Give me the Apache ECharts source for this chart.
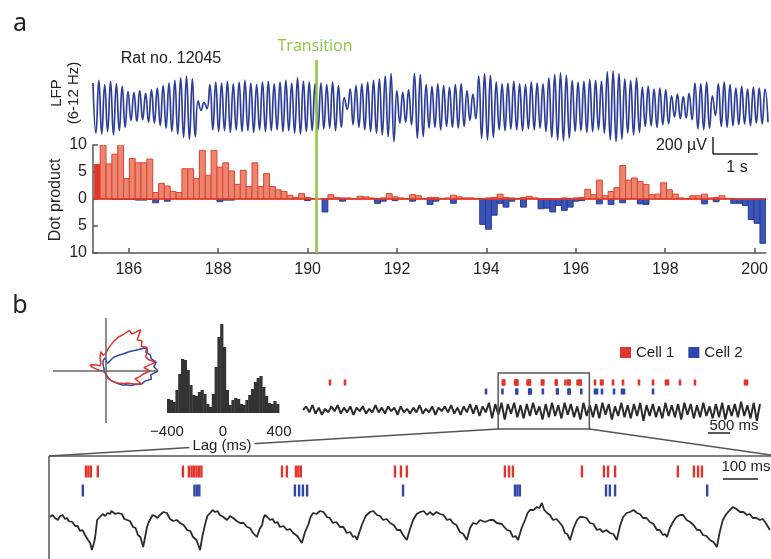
<!DOCTYPE html>
<html>
<head>
<meta charset="utf-8">
<script src="https://cdn.jsdelivr.net/npm/echarts@6/dist/echarts.min.js"></script>
<style>
  html, body { margin: 0; padding: 0; background: #fff; }
  #main { width: 771px; height: 559px; }
</style>
</head>
<body>
<div id="main"></div>
<script>
'use strict'

// ---- panel a : theta LFP, peaks and troughs of each cycle (uV)
const lfpPeaks = [270, 300, 250, 290, 260, 230, 170, 160, 180, 150, 190, 210,
    240, 270, 300, 330, 350, 320, 60, 40, 250, 280, 270, 290, 260, 280, 300, 270,
    250, 280, 290, 260, 280, 300, 270, 330, 290, 280, 260, 270, 250, 280, 240,
    100, 200, 240, 260, 280, 300, 320, 350, 380, 180, 160, 190, 380, 370, 250,
    230, 260, 240, 220, 250, 260, 180, 140, 350, 380, 360, 280, 260, 270, 290,
    260, 250, 280, 270, 260, 330, 370, 390, 360, 300, 280, 290, 310, 300, 290,
    400, 410, 380, 320, 300, 330, 220, 230, 200, 210, 190, 120, 140, 110, 150,
    270, 260, 280, 120, 260, 280, 250, 210, 230, 200, 220, 210, 200];
const lfpTroughs = [-320, -330, -300, -340, -290, -250, -170, -180, -160, -190,
    -200, -230, -260, -300, -330, -370, -390, -360, -50, -30, -280, -300, -290,
    -310, -280, -300, -290, -310, -280, -300, -290, -280, -300, -290, -320, -330,
    -300, -290, -280, -270, -260, -290, -250, -40, -220, -250, -280, -300, -320,
    -340, -360, -420, -200, -190, -220, -380, -360, -260, -250, -280, -240, -250,
    -260, -240, -170, -150, -380, -400, -370, -280, -290, -270, -280, -290, -270,
    -280, -260, -300, -370, -400, -410, -380, -300, -290, -310, -300, -280, -320,
    -400, -420, -390, -320, -340, -310, -240, -230, -250, -220, -210, -130, -150,
    -140, -160, -270, -280, -260, -110, -240, -250, -230, -220, -210, -230, -200,
    -210, -190];

// ---- panel a : dot product per time bin
const binStart = 185.23;
const binWidth = 0.1306;
const dotCell1 = [6.4, 10.0, 6.5, 8.3, 10.3, 3.8, 7.5, 6.7, 6.7, 7.4, 1.2, 2.9,
    2.4, 1.4, 1.2, 5.6, 5.6, 3.8, 9.0, 4.4, 9.0, 5.9, 6.7, 5.2, 2.7, 5.3, 2.3,
    6.7, 2.3, 4.7, 2.3, 1.7, 1.4, 0.7, 0.3, 1.0, 0.3, 0.1, 0.0, 0.1, 0.8, 0.3,
    0.2, 0.2, 0.1, 0.5, 0.4, 0.2, 0.1, 0.2, 1.0, 0.4, 0.2, 0.1, 0.8, 0.6, 0.1,
    0.3, 0.3, 0.1, 0.2, 0.7, 0.4, 0.2, 0.2, 0.1, 0.1, 0.2, 0.3, 0.9, 0.3, 0.2,
    0.1, 0.3, 0.5, 0.2, 0.1, 0.1, 0.1, 0.1, 0.2, 0.1, 0.2, 0.3, 1.8, 0.8, 3.5,
    0.6, 1.4, 2.1, 6.2, 3.5, 3.9, 3.2, 2.7, 0.8, 0.9, 3.0, 1.7, 0.9, 0.2, 0.1,
    0.6, 0.6, 0.9, 0.2, 0.3, 0.6, 0.1, 0.1, 0.0, 0.0, 0.0, 0.0, 0.0];
const dotCell2 = [0, 0, 0, -0.1, -0.1, -0.1, -0.1, -0.2, -0.2, -0.1, -0.7, 0,
    -0.4, 0, 0, 0, 0, 0, 0, 0, 0, -0.5, -0.2, -0.2, 0, 0, 0, 0, 0, 0, 0, 0, 0,
    0, 0, 0, -0.3, 0, 0, -2.4, 0, 0, -0.4, 0, 0, 0, 0, 0, -0.8, -0.4, 0, -0.3,
    0, 0, -0.4, 0, 0, -1.0, -0.4, 0, 0, -0.8, 0, 0, 0, 0, -4.7, -5.6, -3.0,
    -0.8, -1.5, -0.4, 0, -1.5, 0, 0, -1.8, -1.7, -2.4, -1.2, -2.1, -1.5, -0.4,
    -0.3, 0, 0, -0.9, 0, -1.0, 0, -0.7, 0, 0, -0.9, -1.0, 0, 0, 0, 0, 0, 0, 0,
    0, 0, -0.9, 0, -0.5, 0, 0, -0.8, -0.8, -1.2, -3.8, -4.5, -8.2];
const transitionTime = 190.2;
const timeTicks = [186, 188, 190, 192, 194, 196, 198, 200];

// ---- panel b : phase polar plots (angle deg, radius)
const polarAngles = [0, 5, 10, 15, 20, 25, 30, 35, 40, 45, 50, 55, 60, 65, 70,
    75, 80, 85, 90, 95, 100, 105, 110, 115, 120, 125, 130, 135, 140, 145, 150,
    155, 160, 165, 170, 175, 180, 185, 190, 195, 200, 205, 210, 215, 220, 225,
    230, 235, 240, 245, 250, 255, 260, 265, 270, 275, 280, 285, 290, 295, 300,
    305, 310, 315, 320, 325, 330, 335, 340, 345, 350, 355];
const polarCell1 = [44, 38, 50, 44, 42, 46, 47, 43, 47, 44, 54, 45, 47, 40, 36,
    31, 26, 22, 18, 17, 16, 20, 19, 14, 11, 9, 8, 8, 8, 10, 12, 15, 17, 14, 9,
    6, 5, 3, 3, 2, 2, 2, 2, 2, 2, 2, 2, 2, 2, 2, 2, 2, 3, 3, 4, 5, 6, 8, 9, 10,
    11, 13, 15, 17, 18, 22, 24, 31, 38, 30, 34, 37];
const polarCell2 = [52, 48, 51, 47, 47, 44, 47, 36, 30, 24, 21, 18, 16, 13, 10,
    9, 8, 9, 10, 13, 14, 11, 9, 7, 5, 4, 3, 3, 2, 2, 2, 2, 2, 2, 2, 2, 2, 2, 2,
    2, 2, 2, 2, 2, 2, 2, 2, 2, 2, 2, 2, 2, 2, 2, 3, 4, 5, 6, 8, 10, 11, 13, 15,
    18, 22, 24, 29, 32, 38, 40, 46, 45];

// ---- panel b : cross-correlogram, 20 ms bins from -400 ms
const lagStart = -400;
const lagBin = 20;
const xcorrCounts = [14, 13, 11, 23, 39, 54, 53, 43, 28, 18, 17, 21, 23, 19, 9,
    6, 19, 46, 76, 89, 66, 23, 8, 13, 15, 14, 9, 8, 13, 18, 24, 31, 35, 37, 26,
    17, 10, 9, 12, 9];

// ---- panel b : spike times (ms)
const cell1Spikes = [613, 953, 4536, 4543, 4550, 4570, 4814, 4831, 4839, 4846,
    4853, 4860, 4867, 5098, 5112, 5138, 5145, 5152, 5422, 5439, 5456, 5737,
    5749, 5760, 5958, 6021, 6033, 6053, 6233, 6279, 6291, 6302, 6628, 6765,
    6800, 7037, 7264, 7627, 7945, 8240, 8286, 8558, 8898, 10033, 10079];
const cell2Spikes = [4154, 4527, 4847, 4854, 4861, 5135, 5147, 5158, 5170, 5445,
    5766, 5773, 5780, 6027, 6038, 6053, 6317, 6628, 6674, 6787, 7060, 7241,
    7287, 7945];
const recordEnd = 10374;
const windowStart = 4430;
const windowEnd = 6500;

// broadband LFP of the whole record (evenly sampled)
const rawLfp = [0, 3, -2, 4, -3, 2, -4, 1, -2, 3, -1, 4, -3, 2, -2, 3, -4, 2, -1,
    3, -3, 1, -2, 4, -2, 2, -3, 3, -1, 2, -4, 3, -2, 1, -3, 2, -2, 4, -3, 1, -2,
    3, -4, 2, -1, 3, -2, 4, -3, 2, -4, 3, -2, 5, -3, 4, -5, 3, -2, 6, -7, 5, -4,
    6, -8, 5, -3, 6, -6, 4, -7, 5, -5, 6, -4, 3, -8, 5, -6, 6, -5, 4, -7, 6, -4,
    5, -6, 3, -8, 6, -5, 4, -6, 5, -7, 6, -4, 5, -8, 3, -5, 6, -6, 4, -7, 5, -5,
    6, -9, 4, -5, 5, -6, 3, -7, 6, -5, 4, -6, 5, -8, 6, -4, 5, -7, 4, -6, 6, -5,
    3, -7, 5, -6, 6, -8, 4, -5, 5, -6, 7, -5, 4, -7, 6, -9, 5];

// broadband LFP inside the zoom window [ms, level]
const zoomLfp = [[4433, 39], [4440, 41], [4447, 38], [4455, 36], [4462, 40],
    [4469, 41], [4476, 37], [4482, 38], [4486, 35], [4490, 33], [4497, 34],
    [4505, 30], [4512, 30], [4519, 25], [4526, 26], [4533, 21], [4538, 22],
    [4542, 16], [4548, 13], [4553, 6], [4558, 12], [4562, 18], [4568, 36],
    [4572, 37], [4576, 39], [4584, 42], [4591, 40], [4598, 43], [4605, 42],
    [4609, 45], [4613, 44], [4620, 42], [4628, 43], [4633, 45], [4639, 42],
    [4646, 37], [4654, 36], [4662, 35], [4671, 29], [4678, 28], [4685, 21],
    [4692, 19], [4700, 9], [4706, 20], [4711, 29], [4716, 34], [4720, 36],
    [4727, 41], [4734, 40], [4741, 38], [4748, 41], [4758, 44], [4768, 43],
    [4777, 37], [4786, 35], [4796, 36], [4806, 33], [4816, 31], [4826, 26],
    [4835, 25], [4843, 19], [4853, 16], [4863, 6], [4870, 20], [4877, 31],
    [4884, 40], [4892, 43], [4899, 46], [4906, 44], [4913, 45], [4920, 41],
    [4930, 39], [4940, 36], [4949, 40], [4958, 38], [4968, 35], [4978, 33],
    [4988, 33], [4998, 29], [5006, 28], [5015, 23], [5020, 24], [5026, 19],
    [5034, 27], [5041, 31], [5045, 38], [5049, 41], [5056, 39], [5064, 36],
    [5071, 37], [5078, 33], [5085, 34], [5092, 29], [5102, 30], [5112, 26],
    [5121, 27], [5130, 23], [5142, 20], [5155, 13], [5164, 24], [5173, 31],
    [5180, 39], [5187, 43], [5197, 42], [5207, 45], [5217, 44], [5227, 39],
    [5235, 38], [5244, 33], [5254, 34], [5264, 29], [5274, 29], [5284, 23],
    [5293, 24], [5302, 19], [5308, 20], [5313, 16], [5320, 24], [5327, 31],
    [5338, 40], [5350, 44], [5360, 45], [5370, 41], [5379, 40], [5388, 36],
    [5398, 37], [5408, 33], [5418, 31], [5428, 26], [5437, 26], [5445, 21],
    [5450, 21], [5456, 16], [5465, 27], [5474, 36], [5484, 42], [5494, 44],
    [5504, 45], [5514, 41], [5522, 44], [5531, 41], [5541, 44], [5551, 42],
    [5561, 41], [5571, 36], [5580, 37], [5588, 33], [5598, 31], [5608, 24],
    [5618, 22], [5628, 16], [5637, 28], [5646, 33], [5656, 32], [5666, 36],
    [5680, 34], [5694, 36], [5704, 36], [5714, 33], [5728, 32], [5743, 26],
    [5752, 25], [5760, 19], [5768, 20], [5775, 16], [5785, 28], [5795, 36],
    [5802, 43], [5809, 46], [5819, 46], [5829, 49], [5836, 48], [5843, 53],
    [5850, 46], [5858, 43], [5866, 41], [5875, 36], [5885, 37], [5895, 33],
    [5902, 30], [5909, 23], [5916, 22], [5924, 16], [5934, 28], [5944, 36],
    [5952, 39], [5961, 39], [5971, 38], [5981, 33], [5991, 32], [6001, 26],
    [6009, 27], [6018, 24], [6028, 26], [6038, 23], [6048, 22], [6058, 16],
    [6067, 30], [6076, 39], [6086, 43], [6096, 44], [6106, 46], [6116, 43],
    [6124, 42], [6133, 38], [6143, 38], [6153, 34], [6163, 32], [6173, 26],
    [6181, 26], [6190, 21], [6196, 22], [6202, 19], [6210, 28], [6219, 34],
    [6229, 39], [6239, 41], [6243, 39], [6248, 41], [6258, 36], [6268, 34],
    [6278, 31], [6288, 26], [6296, 26], [6305, 21], [6315, 20], [6325, 16],
    [6335, 14], [6345, 9], [6353, 24], [6362, 36], [6372, 42], [6382, 46],
    [6386, 48], [6391, 49], [6401, 47], [6411, 44], [6421, 44], [6431, 41],
    [6439, 42], [6448, 38], [6458, 38], [6468, 36], [6476, 37], [6483, 34],
    [6490, 30], [6497, 26]];

// ---- build
const lfpTrace = [];
lfpPeaks.forEach((p, i) => { lfpTrace.push(p, lfpTroughs[i]); });
const lfpIndex = lfpTrace.map((v, i) => i);
const rawIndex = rawLfp.map((v, i) => i);

const FONT = 'Liberation Sans, Arial, Helvetica, sans-serif';
const RED = '#e2352a';
const BLUE = '#2f47a8';
const DARK = '#2b2b2b';

function barItem(color, stroke) {
    return function (params, api) {
        const x0 = api.value(0);
        const v = api.value(1);
        if (v === 0) return null;
        const a = api.coord([x0, 0]);
        const b = api.coord([x0 + binWidth, v]);
        return {
            type: 'rect',
            shape: { x: a[0], y: Math.min(a[1], b[1]), width: b[0] - a[0], height: Math.abs(b[1] - a[1]) },
            style: { fill: params.dataIndex === 0 && v > 0 ? RED : color, stroke: stroke, lineWidth: 1 }
        };
    };
}

function spikeItem(w, h, color) {
    return function (params, api) {
        const p = api.coord([api.value(0), api.value(1)]);
        return { type: 'rect', shape: { x: p[0] - w / 2, y: p[1] - h / 2, width: w, height: h }, style: { fill: color } };
    };
}

function polarLoop(radii) {
    // close the outline back on the first angle
    const pts = radii.map((r, i) => [r, polarAngles[i]]);
    pts.push([radii[0], 360]);
    return pts;
}

const hidden = { show: false };
function plainAxis(extra) {
    return Object.assign({ axisLine: hidden, axisTick: hidden, axisLabel: hidden, splitLine: hidden }, extra);
}

var myChart = echarts.init(document.getElementById('main'));

var option = {
    animation: false,
    legend: {
        data: ['Cell 1', 'Cell 2'],
        left: 615, top: 340,
        icon: 'rect', itemWidth: 11, itemHeight: 11, itemGap: 14,
        selectedMode: false,
        textStyle: { fontFamily: FONT, fontSize: 15, color: '#222' }
    },
    grid: [
        { left: 93, top: 66, width: 675, height: 80 },   // LFP
        { left: 93, top: 145, width: 675, height: 108 }, // dot product
        { left: 167, top: 323, width: 112, height: 90 }, // correlogram
        { left: 303, top: 378, width: 457, height: 18 }, // raster
        { left: 303, top: 398, width: 457, height: 24 }, // raw trace
        { left: 49, top: 462, width: 722, height: 38 },  // zoom raster
        { left: 49, top: 500, width: 722, height: 56 }   // zoom trace
    ],
    polar: { center: [106, 371], radius: 55 },
    angleAxis: { type: 'value', min: 0, max: 360, startAngle: 0, clockwise: false, show: false },
    radiusAxis: { type: 'value', min: 0, max: 55, show: false },
    xAxis: [
        plainAxis({ gridIndex: 0, type: 'category', data: lfpIndex, boundaryGap: false }),
        {
            gridIndex: 1, type: 'value', min: 185.2, max: 200.25,
            axisLine: { onZero: false, lineStyle: { color: '#555', width: 1.5 } },
            axisTick: { inside: true, length: 5, lineStyle: { color: '#555', width: 1.5 }, customValues: timeTicks },
            axisLabel: { fontFamily: FONT, fontSize: 16, color: '#222', margin: 9, customValues: timeTicks },
            splitLine: hidden
        },
        plainAxis({
            gridIndex: 2, type: 'value', min: -400, max: 400, interval: 400,
            axisLabel: { show: true, fontFamily: FONT, fontSize: 15, color: '#222', margin: 11,
                formatter: v => (v < 0 ? '\u2212' + Math.abs(v) : '' + v) }
        }),
        plainAxis({ gridIndex: 3, type: 'value', min: 0, max: recordEnd }),
        plainAxis({ gridIndex: 4, type: 'category', data: rawIndex, boundaryGap: false }),
        plainAxis({ gridIndex: 5, type: 'value', min: windowStart, max: windowEnd }),
        plainAxis({ gridIndex: 6, type: 'value', min: windowStart, max: windowEnd })
    ],
    yAxis: [
        plainAxis({ gridIndex: 0, type: 'value', min: -470, max: 470 }),
        {
            gridIndex: 1, type: 'value', min: -10, max: 10, interval: 5,
            axisLine: { show: true, lineStyle: { color: '#555', width: 1.5 } },
            axisTick: { show: true, inside: true, length: 5, lineStyle: { color: '#555', width: 1.5 } },
            axisLabel: { fontFamily: FONT, fontSize: 16, color: '#222', margin: 6, formatter: v => '' + Math.abs(v) },
            splitLine: hidden
        },
        plainAxis({ gridIndex: 2, type: 'value', min: 0, max: 90 }),
        plainAxis({ gridIndex: 3, type: 'value', min: 0, max: 2 }),
        plainAxis({ gridIndex: 4, type: 'value', min: -10, max: 10 }),
        plainAxis({ gridIndex: 5, type: 'value', min: 0, max: 2 }),
        plainAxis({ gridIndex: 6, type: 'value', min: 0, max: 56 })
    ],
    series: [
        {
            type: 'line', xAxisIndex: 0, yAxisIndex: 0, data: lfpTrace,
            smooth: 0.5, showSymbol: false, lineStyle: { color: '#2c3d98', width: 1.7 }
        },
        {
            type: 'custom', xAxisIndex: 1, yAxisIndex: 1, clip: true,
            renderItem: barItem('#3a55b8', '#2a3a96'),
            data: dotCell2.map((v, i) => [binStart + i * binWidth, v])
        },
        {
            type: 'custom', xAxisIndex: 1, yAxisIndex: 1, clip: true,
            renderItem: barItem('#ea8670', '#e2412d'),
            data: dotCell1.map((v, i) => [binStart + i * binWidth, v]),
            markLine: {
                silent: true, symbol: 'none', label: hidden,
                lineStyle: { color: RED, width: 1.6, type: 'solid' },
                data: [{ yAxis: 0 }]
            }
        },
        {
            type: 'custom', xAxisIndex: 2, yAxisIndex: 2,
            renderItem: function (params, api) {
                const a = api.coord([api.value(0), 0]);
                const b = api.coord([api.value(0) + lagBin, api.value(1)]);
                return { type: 'rect', shape: { x: a[0], y: b[1], width: b[0] - a[0] + 0.4, height: a[1] - b[1] },
                    style: { fill: '#333' } };
            },
            data: xcorrCounts.map((v, i) => [lagStart + i * lagBin, v])
        },
        {
            type: 'line', coordinateSystem: 'polar', showSymbol: false,
            lineStyle: { color: BLUE, width: 1.5 },
            data: polarLoop(polarCell2)
        },
        {
            type: 'line', coordinateSystem: 'polar', showSymbol: false,
            lineStyle: { color: RED, width: 1.5 },
            data: polarLoop(polarCell1)
        },
        {
            name: 'Cell 1', type: 'custom', xAxisIndex: 3, yAxisIndex: 3, itemStyle: { color: RED },
            renderItem: spikeItem(2.6, 6, RED), data: cell1Spikes.map(t => [t, 1.5])
        },
        {
            name: 'Cell 2', type: 'custom', xAxisIndex: 3, yAxisIndex: 3, itemStyle: { color: BLUE },
            renderItem: spikeItem(2.6, 6, BLUE), data: cell2Spikes.map(t => [t, 0.5])
        },
        {
            type: 'line', xAxisIndex: 4, yAxisIndex: 4, data: rawLfp,
            showSymbol: false, lineStyle: { color: DARK, width: 2 }
        },
        {
            name: 'Cell 1', type: 'custom', xAxisIndex: 5, yAxisIndex: 5, clip: true, itemStyle: { color: RED },
            renderItem: spikeItem(2.4, 12, RED), data: cell1Spikes.map(t => [t, 1.5])
        },
        {
            name: 'Cell 2', type: 'custom', xAxisIndex: 5, yAxisIndex: 5, clip: true, itemStyle: { color: BLUE },
            renderItem: spikeItem(2.4, 12, BLUE), data: cell2Spikes.map(t => [t, 0.5])
        },
        {
            type: 'line', xAxisIndex: 6, yAxisIndex: 6, data: zoomLfp,
            showSymbol: false, lineStyle: { color: DARK, width: 1.8 }
        }
    ]
};

myChart.setOption(option);

// annotations placed from the axes
const px = (i, v) => myChart.convertToPixel({ xAxisIndex: i }, v);
const py = (i, v) => myChart.convertToPixel({ yAxisIndex: i }, v);

function text(x, y, str, size, extra) {
    return {
        type: 'text', x: x, y: y, z: 100,
        style: Object.assign({ text: str, fontFamily: FONT, fontSize: size, fill: '#222', align: 'center', verticalAlign: 'middle' }, extra || {})
    };
}
function vtext(x, y, str, size) {
    return Object.assign(text(x, y, str, size), { rotation: Math.PI / 2 });
}
function line(x1, y1, x2, y2, color, w) {
    return { type: 'line', z: 50, shape: { x1: x1, y1: y1, x2: x2, y2: y2 }, style: { stroke: color, lineWidth: w } };
}

const xTr = px(1, transitionTime);
const oneSec = px(1, 186) - px(1, 185);
const uv200 = py(0, 0) - py(0, 200);
const boxL = px(3, windowStart), boxR = px(3, windowEnd);
const frameL = px(5, windowStart), frameR = px(5, windowEnd);
const ms500 = px(3, 500) - px(3, 0);
const ms100 = px(5, windowStart + 100) - px(5, windowStart);
const GREY = '#555';

myChart.setOption({
    graphic: [
        text(20, 24, 'a', 25, { fontFamily: 'Noto Sans, ' + FONT }),
        text(20, 306, 'b', 25, { fontFamily: 'Noto Sans, ' + FONT }),
        text(171, 59, 'Rat no. 12045', 16),
        text(315, 46, 'Transition', 16, { fill: '#8cc63f', fontFamily: 'Open Sans, ' + FONT }),
        line(xTr, 60, xTr, 253, '#8cc63f', 2.5),
        vtext(57, 93, 'LFP', 15),
        vtext(74, 93, '(6-12 Hz)', 15),
        vtext(56, 200, 'Dot product', 16),
        // 200 uV / 1 s scale bar
        line(713, 154 - uv200, 713, 154, '#222', 1.5),
        line(713, 154, 713 + oneSec, 154, '#222', 1.5),
        text(707, 146, '200 \u00b5V', 16, { align: 'right' }),
        text(737, 168, '1 s', 16),
        // polar crosshair
        line(106, 318, 106, 423, '#666', 1.5),
        line(53, 371, 158, 371, '#666', 1.5),
        // zoom box and connectors
        { type: 'rect', z: 60, shape: { x: boxL, y: 373, width: boxR - boxL, height: 56 },
          style: { fill: 'none', stroke: GREY, lineWidth: 1.5 } },
        line(boxL, 429, frameL, 456, GREY, 1.3),
        line(boxR, 429, frameR, 455, GREY, 1.3),
        line(frameL, 456, frameR, 456, GREY, 1.5),
        line(frameL, 456, frameL, 559, GREY, 1.5),
        text(222, 446, 'Lag (ms)', 15, { backgroundColor: '#fff', padding: [0, 3, 0, 3] }),
        // 500 ms and 100 ms bars
        text(734, 426, '500 ms', 15),
        line(708, 433, 708 + ms500, 433, '#222', 1.5),
        text(746, 467, '100 ms', 15),
        line(723, 479, 723 + ms100, 479, '#222', 1.5)
    ]
});
</script>
</body>
</html>
